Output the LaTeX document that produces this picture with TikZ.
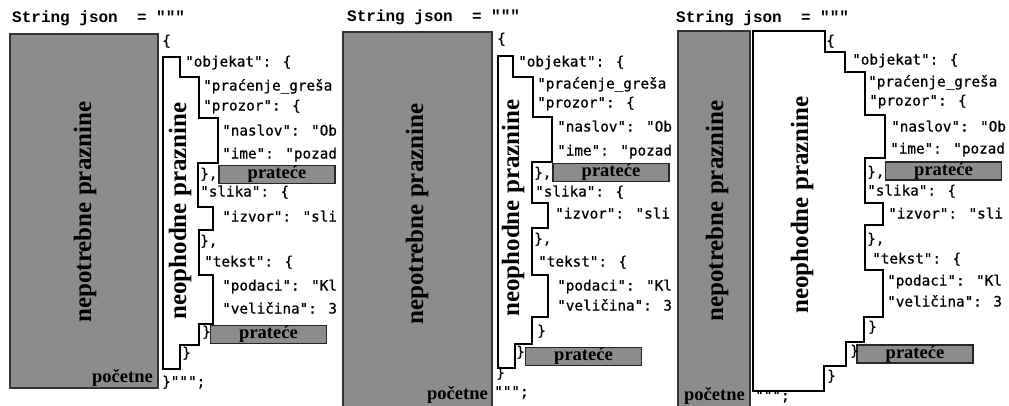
\documentclass[tikz,border=0pt]{standalone}
\usepackage{fontspec}
\setmainfont{Liberation Serif}
\newfontfamily\codefont[FakeBold=0.8]{DejaVu Sans Mono}
\newfontfamily\headfont{Liberation Mono}
\usetikzlibrary{positioning}

\tikzset{
  gapbox/.style={draw=black!80,line width=1.2pt,fill=black!45},
  hole/.style={draw=black,line width=1.1pt,fill=white},
  code/.style={anchor=west,inner sep=0pt,text height=10pt,text depth=3pt,font=\codefont\fontsize{14.3}{16}\selectfont},
  head/.style={anchor=base west,inner sep=0pt,font=\headfont\bfseries\fontsize{16}{18}\selectfont},
  biglbl/.style={rotate=90,inner sep=0pt,font=\bfseries\fontsize{25}{28}\selectfont},
  startlbl/.style={inner sep=0pt,font=\bfseries\fontsize{18.5}{20}\selectfont},
  trail/.style={draw=black!85,line width=1.2pt,fill=black!45,inner sep=0pt,minimum width=116pt,minimum height=18pt,font=\bfseries\fontsize{18.5}{20}\selectfont},
}

\begin{document}
\begin{tikzpicture}[x=1pt,y=-1pt]
  \useasboundingbox (0,0) rectangle (1009,405);

  % first panel
  \begin{scope}
    \clip (0,0) rectangle (341,405);
    \node[head] (h1) at (12,22) {String json\ \ = """};
    \draw[gapbox] (10,34) rectangle (158,388);
    \draw[hole] (163,57) -- (180,57) -- (180,77) -- (199,77) -- (199,118) -- (218,118) -- (218,163) -- (198,163)
      -- (198,207) -- (213,207) -- (213,230) -- (199,230) -- (199,275) -- (213,275) -- (213,324) -- (199,324)
      -- (199,345) -- (180,345) -- (180,369) -- (163,369) -- cycle;
    \node[biglbl] (n1) at (85,212) {nepotrebne praznine};
    \node[biglbl] (o1) at (180,211) {neophodne praznine};
    \node[startlbl,anchor=base east] (s1) at (153,382) {početne};
    \node[trail] (t1a) at (277,174.5) {prateće};
    \node[trail] (t1b) at (268.5,334.5) {prateće};
    \node[code] (c1a) at (162,42) {\{};
    \node[code] (c1b) at (185,63) {"objekat": \{};
    \node[code] (c1c) at (203,87) {"praćenje\_greša};
    \node[code] (c1d) at (203,107) {"prozor": \{};
    \node[code] (c1e) at (222,132) {"naslov": "Ob};
    \node[code] (c1f) at (222,155) {"ime": "pozad};
    \node[code] (c1g) at (200,175) {\},};
    \node[code] (c1h) at (200,193) {"slika": \{};
    \node[code] (c1i) at (222,218) {"izvor": "sli};
    \node[code] (c1j) at (200,242) {\},};
    \node[code] (c1k) at (204,263) {"tekst": \{};
    \node[code] (c1l) at (222,287) {"podaci": "Kl};
    \node[code] (c1m) at (222,310) {"veličina": 3};
    \node[code] (c1n) at (202,333) {\}};
    \node[code] (c1o) at (182,354) {\}};
    \node[code] (c1p) at (162,383) {\}""";};
  \end{scope}

  % second panel
  \begin{scope}
    \clip (341,0) rectangle (676,405);
    \node[head] (h2) at (347,21) {String json\ \ = """};
    \draw[gapbox] (343,32) rectangle (492,407);
    \draw[hole] (498,56) -- (513,56) -- (513,77) -- (533,77) -- (533,117) -- (552,117) -- (552,162) -- (532,162)
      -- (532,203) -- (548,203) -- (548,228) -- (532,228) -- (532,275) -- (548,275) -- (548,317) -- (532,317)
      -- (532,344) -- (515,344) -- (515,368) -- (498,368) -- cycle;
    \node[biglbl] (n2) at (417,214) {nepotrebne praznine};
    \node[biglbl] (o2) at (513,208) {neophodne praznine};
    \node[startlbl,anchor=base east] (s2) at (488,399) {početne};
    \node[trail] (t2a) at (611,172.5) {prateće};
    \node[trail] (t2b) at (583.5,356.5) {prateće};
    \node[code] (c2a) at (497,40) {\{};
    \node[code] (c2b) at (518,63) {"objekat": \{};
    \node[code] (c2c) at (537,85) {"praćenje\_greša};
    \node[code] (c2d) at (537,104) {"prozor": \{};
    \node[code] (c2e) at (557,128) {"naslov": "Ob};
    \node[code] (c2f) at (557,152) {"ime": "pozad};
    \node[code] (c2g) at (534,174) {\},};
    \node[code] (c2h) at (535,193) {"slika": \{};
    \node[code] (c2i) at (555,215) {"izvor": "sli};
    \node[code] (c2j) at (534,240) {\},};
    \node[code] (c2k) at (538,263) {"tekst": \{};
    \node[code] (c2l) at (557,287) {"podaci": "Kl};
    \node[code] (c2m) at (557,307) {"veličina": 3};
    \node[code] (c2n) at (537,332) {\}};
    \node[code] (c2o) at (516,353) {\}};
    \node[code] (c2p) at (496,374) {\}};
    \node[code] (c2q) at (494,393) {""";};
  \end{scope}

  % third panel
  \begin{scope}
    \clip (676,0) rectangle (1009,405);
    \node[head] (h3) at (676,22) {String json\ \ = """};
    \draw[gapbox] (678,31) rectangle (750,407);
    \draw[hole] (753,31) -- (825,31) -- (825,52) -- (845,52) -- (845,72) -- (865,72) -- (865,115) -- (885,115)
      -- (885,158) -- (865,158) -- (865,203) -- (883,203) -- (883,225) -- (865,225) -- (865,270) -- (883,270)
      -- (883,317) -- (864,317) -- (864,342) -- (846,342) -- (846,366) -- (824,366) -- (824,391) -- (753,391) -- cycle;
    \node[biglbl] (n3) at (717,211) {nepotrebne praznine};
    \node[biglbl] (o3) at (802,205) {neophodne praznine};
    \node[startlbl,anchor=base east] (s3) at (745,400) {početne};
    \node[trail] (t3a) at (943.5,171) {prateće};
    \node[trail] (t3b) at (915,354) {prateće};
    \node[code] (c3a) at (826,42) {\{};
    \node[code] (c3b) at (852,61) {"objekat": \{};
    \node[code] (c3c) at (868,83) {"praćenje\_greša};
    \node[code] (c3d) at (869,102) {"prozor": \{};
    \node[code] (c3e) at (891,128) {"naslov": "Ob};
    \node[code] (c3f) at (890,150) {"ime": "pozad};
    \node[code] (c3g) at (867,173) {\},};
    \node[code] (c3h) at (867,192) {"slika": \{};
    \node[code] (c3i) at (888,215) {"izvor": "sli};
    \node[code] (c3j) at (867,240) {\},};
    \node[code] (c3k) at (872,260) {"tekst": \{};
    \node[code] (c3l) at (887,282) {"podaci": "Kl};
    \node[code] (c3m) at (887,303) {"veličina": 3};
    \node[code] (c3n) at (868,328) {\}};
    \node[code] (c3o) at (850,352) {\}};
    \node[code] (c3p) at (827,377) {\}};
    \node[code] (c3q) at (755,397) {""";};
  \end{scope}
\end{tikzpicture}
\end{document}
